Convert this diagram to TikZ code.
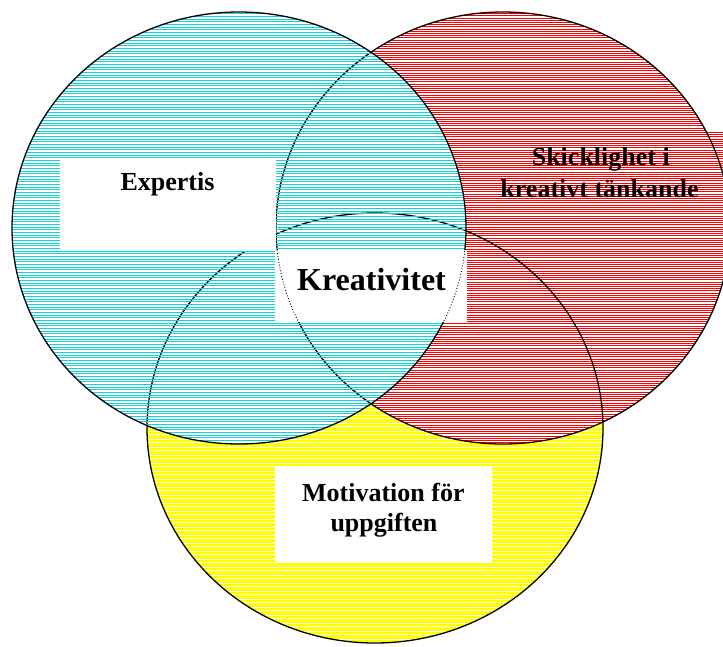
\documentclass[tikz,border=0pt]{standalone}
\usepackage{fontspec}
\setmainfont{Liberation Serif}
\definecolor{hblue}{RGB}{20,208,218}
\definecolor{hred}{RGB}{255,0,0}
\definecolor{hyellow}{RGB}{255,255,0}
\begin{document}
\begin{tikzpicture}[x=1pt,y=-1pt,
  outline/.style={draw=black,line width=1.3pt},
  dotline/.style={draw=black,line width=0.9pt,dotted},
  whitebox/.style={fill=white,draw=none},
  lbl/.style={font=\fontsize{26}{30}\selectfont\bfseries,anchor=base,inner sep=0pt},
  biglbl/.style={font=\fontsize{32}{36}\selectfont\bfseries,anchor=base,inner sep=0pt}]
\def\blueE{(239,228) ellipse [x radius=227, y radius=216]}
\def\redE{(503,228) ellipse [x radius=227, y radius=216]}
\def\yellowE{(375,428) ellipse [x radius=228, y radius=215]}
\useasboundingbox (0,0) rectangle (723,646);
\clip (0,0) rectangle (723,646);
\fill[white] (0,0) rectangle (723,646);
% yellow hatch
\begin{scope}
  \clip \yellowE;
  \draw[hyellow,line width=1.7pt] \foreach \i in {0,...,245}{(0,{round(\i*2.667)+0.85}) -- (730,{round(\i*2.667)+0.85})};
\end{scope}
% red: white ground and hatch
\fill[white] \redE;
\fill[white] (560,132) rectangle (730,270);
\begin{scope}
  \clip \redE;
  \draw[hred,line width=1.2pt] \foreach \i in {0,...,295}{(0,{round(\i*2.2)+0.6}) -- (730,{round(\i*2.2)+0.6})};
\end{scope}
\begin{scope}
  \clip (560,132) rectangle (730,270);
  \draw[hred,line width=1.2pt] \foreach \i in {0,...,295}{(0,{round(\i*2.2)+0.6}) -- (730,{round(\i*2.2)+0.6})};
\end{scope}
% outlines of yellow and red
\draw[outline] \yellowE;
\draw[outline] \redE;
% blue: white ground, outlines below, hatch
\fill[white] \blueE;
\begin{scope}
  \clip \blueE;
  \draw[outline] \yellowE;
  \draw[outline] \redE;
  \draw[hblue,line width=1.3pt] \foreach \i in {0,...,245}{(0,{round(\i*2.667)+0.65}) -- (730,{round(\i*2.667)+0.65})};
\end{scope}
\draw[outline] \blueE;
% white boxes
\fill[whitebox] (60,158) rectangle (276,251);
\fill[whitebox] (275,250) rectangle (467,322);
\fill[whitebox] (275,467) rectangle (492,563);
\begin{scope}
  \clip (275,250) rectangle (467,322);
  \draw[dotline] \redE;
  \draw[dotline] \blueE;
\end{scope}
% labels
\node[lbl] (expertis) at (167.5,190.7) {Expertis};
\node[lbl] (skill1) at (600.8,165) {Skicklighet i};
\node[lbl] (skill2) at (599.5,197) {kreativt tänkande};
\node[biglbl] (krea) at (371.5,290.7) {Kreativitet};
\node[lbl] (moti1) at (383.3,501.7) {Motivation för};
\node[lbl] (moti2) at (384,531) {uppgiften};
\end{tikzpicture}
\end{document}
